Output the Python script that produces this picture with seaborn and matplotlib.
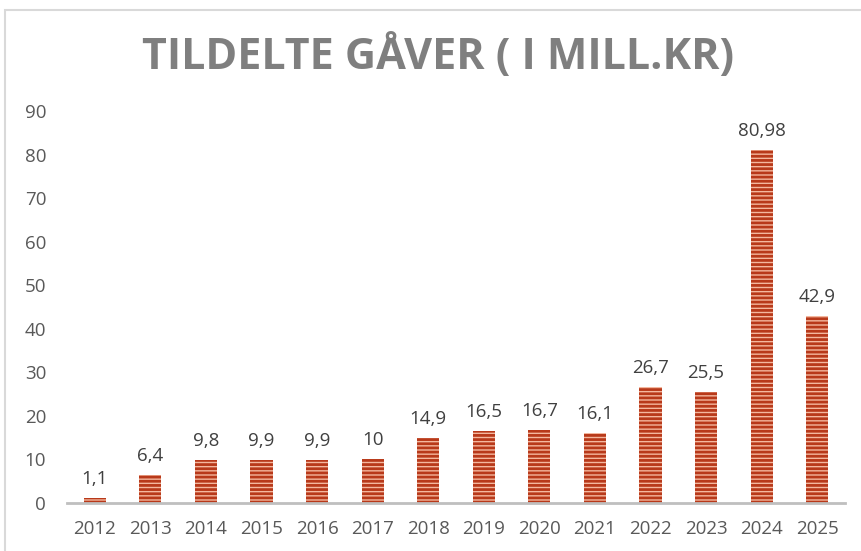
import matplotlib
matplotlib.use("Agg")
import matplotlib.pyplot as plt
import seaborn as sns
import pandas as pd
from matplotlib.patches import Rectangle

years = ["2012", "2013", "2014", "2015", "2016", "2017", "2018",
         "2019", "2020", "2021", "2022", "2023", "2024", "2025"]
values = [1.1, 6.4, 9.8, 9.9, 9.9, 10, 14.9, 16.5, 16.7, 16.1, 26.7, 25.5, 80.98, 42.9]
yticks = [0, 10, 20, 30, 40, 50, 60, 70, 80, 90]

sns.set_theme(style="white")
plt.rcParams["font.family"] = ["Open Sans", "DejaVu Sans"]
plt.rcParams["hatch.linewidth"] = 2.0

df = pd.DataFrame({"year": years, "value": values})

fig = plt.figure(figsize=(8.61, 5.51), dpi=100)
ax = fig.add_axes([67/861, 1-503/551, (845-67)/861, (503-111)/551])

sns.barplot(data=df, x="year", y="value", ax=ax, color="#f4b79e",
            width=0.4, saturation=1, edgecolor="#b8391a", linewidth=0)
for p in ax.patches:
    p.set_hatch("----")
    p.set_edgecolor("#b8391a")
    p.set_linewidth(0)

def fmt(v):
    s = f"{v:g}"
    return s.replace(".", ",")

for i, v in enumerate(values):
    ax.text(i, v + 2.3, fmt(v), ha="center", va="bottom",
            fontsize=13.5, color="#404040")

ax.set_xlim(-0.5, 13.5)
ax.set_ylim(0, 90)
ax.set_yticks(yticks)
ax.set_yticklabels([str(t) for t in yticks])
ax.set_xlabel("")
ax.set_ylabel("")
ax.tick_params(axis="both", labelsize=13.5, colors="#595959", length=0)
ax.tick_params(axis="x", pad=12)
ax.tick_params(axis="y", pad=15)
for s in ["top", "right", "left"]:
    ax.spines[s].set_visible(False)
ax.spines["bottom"].set_color("#bfbfbf")
ax.spines["bottom"].set_linewidth(2)
ax.grid(False)

fig.text(438/861, 1-57/551, "TILDELTE GÅVER ( I MILL.KR)", ha="center", va="center",
         fontsize=31, fontweight="bold", color="#7f7f7f")

fig.patches.append(Rectangle((5/861, -0.1), 2, 1.1 - 10/551, transform=fig.transFigure,
                             fill=False, edgecolor="#d9d9d9", linewidth=1.5))
ax.set_facecolor("white")
fig.patch.set_facecolor("white")

fig.savefig("out.png", dpi=100)
